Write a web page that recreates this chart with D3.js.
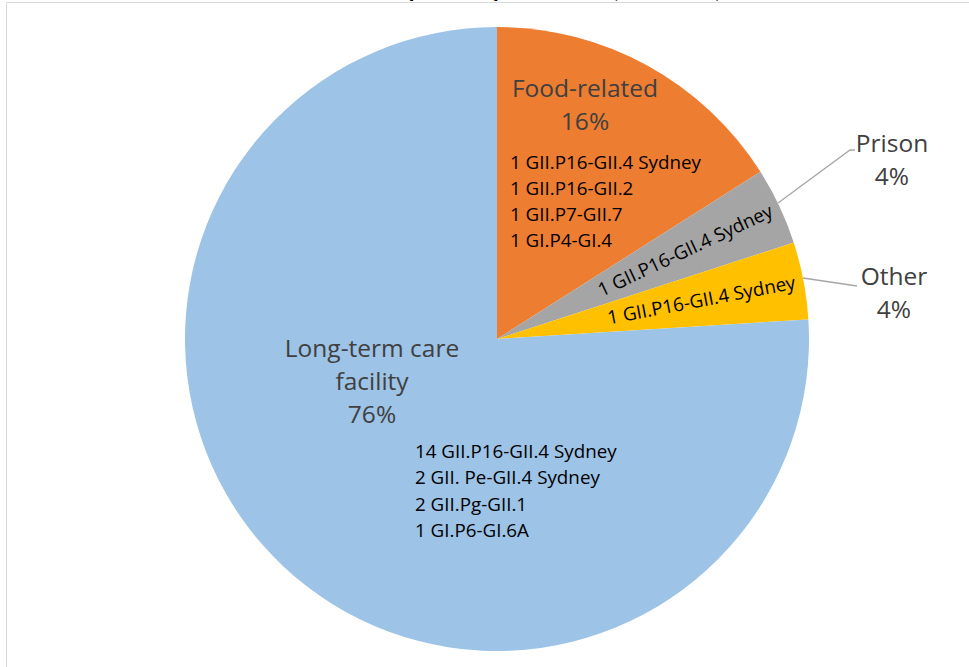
<!DOCTYPE html>
<html>
<head>
<meta charset="utf-8">
<script src="https://cdn.jsdelivr.net/npm/d3@7"></script>
<style>
  html, body { margin: 0; padding: 0; background: #fff; }
  svg { display: block; }
</style>
</head>
<body>
<svg id="chart" width="969" height="667"></svg>
<script>
// ---- data ----
const titleText = "Outbreaks by Facility Location (2017-18)";
const categories = ["Food-related", "Prison", "Other", "Long-term care facility"];
const counts = [4, 1, 1, 19];
const labelLines = [["Food-related"], ["Prison"], ["Other"], ["Long-term care", "facility"]];
const genotypes = [
  ["1 GII.P16-GII.4 Sydney", "1 GII.P16-GII.2", "1 GII.P7-GII.7", "1 GI.P4-GI.4"],
  ["1 GII.P16-GII.4 Sydney"],
  ["1 GII.P16-GII.4 Sydney"],
  ["14 GII.P16-GII.4 Sydney", "2 GII. Pe-GII.4 Sydney", "2 GII.Pg-GII.1", "1 GI.P6-GI.6A"]
];
const colors = ["#ed7d31", "#a5a5a5", "#ffc000", "#9dc3e6"];

// ---- layout ----
const svg = d3.select("#chart");
const W = 969, H = 667;
const cx = 497, cy = 339, R = 312;
const font = "'Open Sans', sans-serif";
const bigSize = 24.5, smallSize = 18.8;

// frame
svg.append("rect").attr("x", 6.5).attr("y", 2.5).attr("width", W + 10).attr("height", H + 10)
  .attr("fill", "none").attr("stroke", "#d9d9d9").attr("stroke-width", 1);

// title (mostly clipped at the top, as in the reference)
svg.append("text").attr("x", 496).attr("y", -3).attr("text-anchor", "middle")
  .attr("font-family", "Lato, sans-serif").attr("font-weight", "bold").attr("font-size", 25)
  .attr("fill", "#000").text(titleText);

const total = d3.sum(counts);
const pct = v => Math.round(v / total * 100) + "%";
const data = categories.map((c, i) => ({ cat: c, value: counts[i], i }));

const pie = d3.pie().value(d => d.value).sort(null).startAngle(0).endAngle(2 * Math.PI);
const arcs = pie(data);
const arc = d3.arc().innerRadius(0).outerRadius(R);

const g = svg.append("g").attr("transform", `translate(${cx},${cy})`);
g.selectAll("path.slice").data(arcs).enter().append("path")
  .attr("class", "slice").attr("d", arc).attr("fill", d => colors[d.data.i]);

const mid = d => (d.startAngle + d.endAngle) / 2;
const pt = (a, r) => [Math.sin(a) * r, -Math.cos(a) * r];

function bigLabel(lines, x, y0, lh) {
  const t = svg.append("text").attr("text-anchor", "middle")
    .attr("font-family", font).attr("font-size", bigSize).attr("fill", "#404040");
  lines.forEach((l, k) => t.append("tspan").attr("x", x).attr("y", y0 + k * lh).text(l));
}
function smallBlock(lines, x, y0, lh) {
  const t = svg.append("text").attr("font-family", font).attr("font-size", smallSize).attr("fill", "#000");
  lines.forEach((l, k) => t.append("tspan").attr("x", x).attr("y", y0 + k * lh).text(l));
}

// Food-related
bigLabel([...labelLines[0], pct(counts[0])], 585, 97, 33);
smallBlock(genotypes[0], 510, 169, 26);

// Long-term care facility
bigLabel([...labelLines[3], pct(counts[3])], 372, 357, 33);
smallBlock(genotypes[3], 415, 458, 26.3);

// Prison & Other: rotated genotype labels inside slice
[1, 2].forEach(i => {
  const a = mid(arcs[i]);
  const [x, y] = pt(a, 208);
  const rot = (a * 180 / Math.PI) - 90;
  g.append("text").attr("transform", `translate(${x},${y}) rotate(${rot})`)
    .attr("text-anchor", "middle").attr("dy", "0.35em")
    .attr("font-family", font).attr("font-size", smallSize).attr("fill", "#000")
    .text(genotypes[i][0]);
});

// Prison & Other: outside labels with leader lines
const outside = [
  { i: 1, lx: 892, ly: 152, line: [[778, 203], [850, 150], [855, 150]] },
  { i: 2, lx: 894, ly: 285, line: [[803, 278], [857, 286]] }
];
outside.forEach(o => {
  svg.append("path").attr("d", d3.line()(o.line)).attr("fill", "none")
    .attr("stroke", "#a6a6a6").attr("stroke-width", 1.3);
  bigLabel([...labelLines[o.i], pct(counts[o.i])], o.lx, o.ly, 33);
});
</script>
</body>
</html>
